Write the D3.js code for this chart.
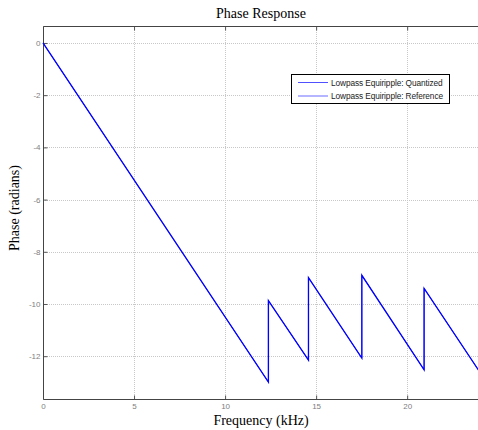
<!DOCTYPE html>
<html>
<head>
<meta charset="utf-8">
<script src="https://cdn.jsdelivr.net/npm/d3@7"></script>
<style>
  html, body { margin: 0; padding: 0; background: #fff; }
  svg { display: block; }
</style>
</head>
<body>
<svg id="chart" width="478" height="430"></svg>
<script>
// Phase response vertices (frequency in kHz, phase in radians)
const freqKHz = [0, 12.38, 12.38, 14.58, 14.58, 17.51, 17.51, 20.93, 20.93, 24.0];
const phaseQuantized = [0, -12.99, -9.87, -12.15, -8.99, -12.07, -8.90, -12.52, -9.40, -12.62];
const phaseReference = [0, -12.99, -9.87, -12.15, -8.99, -12.07, -8.90, -12.52, -9.40, -12.62];
const xTicks = [0, 5, 10, 15, 20];
const yTicks = [0, -2, -4, -6, -8, -10, -12];
const seriesNames = ["Lowpass Equiripple: Quantized", "Lowpass Equiripple: Reference"];

const svg = d3.select("#chart");
const plotLeft = 43, plotTop = 26, plotRight = 480, plotBottom = 399;

const x = d3.scaleLinear().domain([0, 24]).range([plotLeft, plotRight]);
const y = d3.scaleLinear().domain([-13.64, 0.65]).range([plotBottom, plotTop]);

// grid
const grid = svg.append("g").attr("stroke", "#c8c8c8").attr("stroke-width", 1).attr("stroke-dasharray", "1,1");
xTicks.filter(d => d > 0).forEach(d => {
  grid.append("line").attr("x1", Math.round(x(d)) + 0.5).attr("x2", Math.round(x(d)) + 0.5)
    .attr("y1", plotTop).attr("y2", plotBottom);
});
yTicks.forEach(d => {
  grid.append("line").attr("y1", Math.round(y(d)) + 0.5).attr("y2", Math.round(y(d)) + 0.5)
    .attr("x1", plotLeft).attr("x2", plotRight);
});

// axes
const xAxis = d3.axisBottom(x).tickValues(xTicks).tickSize(-4).tickPadding(4).tickFormat(d3.format("d"));
const yAxis = d3.axisLeft(y).tickValues(yTicks).tickSize(-4).tickPadding(3).tickFormat(d => String(d));

const gx = svg.append("g").attr("transform", `translate(0,${plotBottom + 0.5})`).call(xAxis);
const gy = svg.append("g").attr("transform", `translate(${plotLeft + 0.5},0)`).call(yAxis);
[gx, gy].forEach(g => {
  g.select(".domain").remove();
  g.selectAll(".tick line").attr("stroke", "#555");
  g.selectAll(".tick text").attr("fill", "#808080").attr("font-family", "Arial, 'Liberation Sans', sans-serif").attr("font-size", 8);
});
// ticks along the top edge
const gt = svg.append("g").attr("transform", `translate(0,${plotTop + 0.5})`).call(d3.axisTop(x).tickValues(xTicks).tickSize(-4).tickFormat(""));
gt.select(".domain").remove();
gt.selectAll(".tick line").attr("stroke", "#555");

// frame
svg.append("path")
  .attr("d", `M${plotRight},${plotTop + 0.5}H${plotLeft + 0.5}V${plotBottom + 0.5}H${plotRight}`)
  .attr("fill", "none").attr("stroke", "#444").attr("stroke-width", 1);

// lines
const line = d3.line().x((d, i) => x(freqKHz[i])).y(d => y(d));
svg.append("path").datum(phaseReference).attr("d", line)
  .attr("fill", "none").attr("stroke", "#6060ff").attr("stroke-width", 1);
svg.append("path").datum(phaseQuantized).attr("d", line)
  .attr("fill", "none").attr("stroke", "#0000ff").attr("stroke-width", 1.3);

// title and labels
const serif = "'Liberation Serif', 'Times New Roman', serif";
svg.append("text").attr("x", 261).attr("y", 18).attr("text-anchor", "middle")
  .attr("font-family", serif).attr("font-size", 14).attr("fill", "#000")
  .text("Phase Response");
svg.append("text").attr("x", 261).attr("y", 425).attr("text-anchor", "middle")
  .attr("font-family", serif).attr("font-size", 14).attr("fill", "#000")
  .text("Frequency (kHz)");
svg.append("text").attr("transform", "translate(19,208) rotate(-90)").attr("text-anchor", "middle")
  .attr("font-family", serif).attr("font-size", 14).attr("fill", "#000")
  .text("Phase (radians)");

// legend
const lg = svg.append("g");
lg.append("rect").attr("x", 291.5).attr("y", 74.5).attr("width", 158).attr("height", 29)
  .attr("fill", "#fff").attr("stroke", "#000").attr("stroke-width", 1);
const legendColors = ["#5050ff", "#6a6aff"];
seriesNames.forEach((name, i) => {
  const yy = 82.5 + i * 13.5;
  lg.append("line").attr("x1", 298).attr("x2", 328).attr("y1", yy).attr("y2", yy)
    .attr("stroke", legendColors[i]).attr("stroke-width", 1);
  lg.append("text").attr("x", 331).attr("y", yy + 3)
    .attr("font-family", "Arial, 'Liberation Sans', sans-serif").attr("font-size", 8.3).attr("fill", "#222")
    .attr("letter-spacing", -0.1)
    .text(name);
});
</script>
</body>
</html>
